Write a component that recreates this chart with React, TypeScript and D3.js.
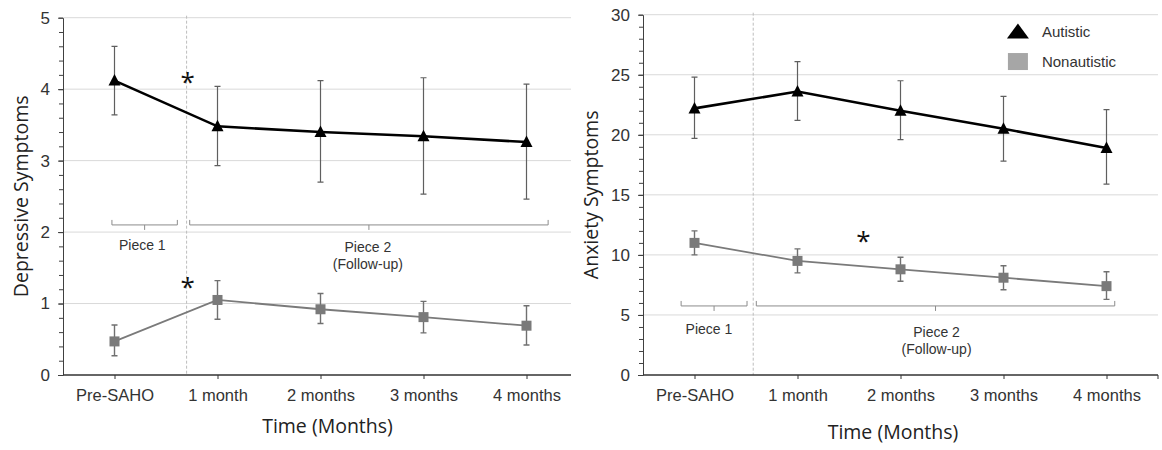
import React, { useEffect, useRef } from "react";
import * as d3 from "d3";

// time points
const categories = ["Pre-SAHO", "1 month", "2 months", "3 months", "4 months"];

// depressive symptoms
const depAutMean = [4.12, 3.48, 3.4, 3.34, 3.26];
const depAutLow = [3.64, 2.93, 2.7, 2.53, 2.46];
const depAutHigh = [4.6, 4.04, 4.12, 4.16, 4.07];
const depNonMean = [0.47, 1.05, 0.92, 0.81, 0.69];
const depNonLow = [0.27, 0.78, 0.72, 0.59, 0.42];
const depNonHigh = [0.7, 1.32, 1.14, 1.03, 0.97];

// anxiety symptoms
const anxAutMean = [22.2, 23.6, 22.0, 20.5, 18.9];
const anxAutLow = [19.7, 21.2, 19.6, 17.8, 15.9];
const anxAutHigh = [24.8, 26.1, 24.5, 23.2, 22.1];
const anxNonMean = [11.0, 9.5, 8.8, 8.1, 7.4];
const anxNonLow = [10.0, 8.5, 7.8, 7.1, 6.3];
const anxNonHigh = [12.0, 10.5, 9.8, 9.1, 8.6];

const legendLabels = ["Autistic", "Nonautistic"];

const W = 1162, H = 450;
const TICK_FONT = "'Liberation Sans', Arial, sans-serif";
const TITLE_FONT = "'Open Sans', 'Noto Sans', sans-serif";

type Row = { cat: string; mean: number; low: number; high: number };
const rows = (mean: number[], low: number[], high: number[]): Row[] =>
  categories.map((c, i) => ({ cat: c, mean: mean[i], low: low[i], high: high[i] }));

const panels = [
  {
    left: 63, right: 578, axisEnd: 571, top: 17.7, bottom: 375,
    yMax: 5, yStep: 1, minor: 0.2,
    yTitle: "Depressive Symptoms", yTitleX: 20, xTitleX: 327.5, xTitleY: 425,
    aut: rows(depAutMean, depAutLow, depAutHigh),
    non: rows(depNonMean, depNonLow, depNonHigh),
    dashAt: 0.7, endTick: false,
    brackets: [
      { from: -0.025, to: 0.61, v: 2.1 },
      { from: 0.73, to: 4.21, v: 2.1 },
    ],
    piece1: { at: 0.27, v: 1.82 },
    piece2: { at: 2.46, v: 1.79 },
    stars: [{ at: 0.71, v: 4.19 }, { at: 0.71, v: 1.32 }],
    legend: false,
  },
  {
    left: 643, right: 1158, axisEnd: 1158, top: 14.7, bottom: 375,
    yMax: 30, yStep: 5, minor: 1,
    yTitle: "Anxiety Symptoms", yTitleX: 590, xTitleX: 893, xTitleY: 431.5,
    aut: rows(anxAutMean, anxAutLow, anxAutHigh),
    non: rows(anxNonMean, anxNonLow, anxNonHigh),
    dashAt: 0.57, endTick: true,
    brackets: [
      { from: -0.13, to: 0.51, v: 5.75 },
      { from: 0.6, to: 4.08, v: 5.75 },
    ],
    piece1: { at: 0.14, v: 3.81 },
    piece2: { at: 2.35, v: 3.61 },
    stars: [{ at: 1.64, v: 11.67 }],
    legend: true,
  },
];

const triPath = (w: number, up: number, down: number) =>
  `M0,${-up}L${w / 2},${down}L${-w / 2},${down}Z`;

export default function App() {
  const ref = useRef<SVGSVGElement>(null);

  useEffect(() => {
    const svg = d3.select(ref.current);
    svg.selectAll("*").remove();

    panels.forEach(p => {
      const g = svg.append("g");
      const x = d3.scalePoint<string>().domain(categories).range([p.left, p.right]).padding(0.5);
      const y = d3.scaleLinear().domain([0, p.yMax]).range([p.bottom, p.top]);
      const xf = (i: number) => (x(categories[0]) as number) + i * x.step();

      // gridlines
      g.append("g")
        .selectAll("line")
        .data(d3.range(p.yStep, p.yMax + p.yStep / 2, p.yStep))
        .join("line")
        .attr("x1", p.left).attr("x2", p.axisEnd)
        .attr("y1", d => y(d)).attr("y2", d => y(d))
        .attr("stroke", "#d9d9d9").attr("stroke-width", 1);

      // dashed divider
      g.append("line")
        .attr("x1", xf(p.dashAt)).attr("x2", xf(p.dashAt))
        .attr("y1", p.top - 2).attr("y2", p.bottom)
        .attr("stroke", "#bdbdbd").attr("stroke-width", 1).attr("stroke-dasharray", "3,2");

      // brackets
      p.brackets.forEach(b => {
        const by = y(b.v), x1 = xf(b.from), x2 = xf(b.to), xm = (x1 + x2) / 2;
        g.append("path")
          .attr("d", `M${x1},${by - 5}V${by}H${x2}V${by - 5}M${xm},${by}V${by + 5}`)
          .attr("fill", "none").attr("stroke", "#8c8c8c").attr("stroke-width", 1);
      });

      const smallText = (tx: number, ty: number, s: string) =>
        g.append("text")
          .attr("x", tx).attr("y", ty)
          .attr("text-anchor", "middle").attr("dominant-baseline", "central")
          .style("font-family", TICK_FONT).style("font-size", "14px")
          .attr("fill", "#333").text(s);
      smallText(xf(p.piece1.at), y(p.piece1.v), "Piece 1");
      smallText(xf(p.piece2.at), y(p.piece2.v), "Piece 2");
      smallText(xf(p.piece2.at), y(p.piece2.v) + 17, "(Follow-up)");

      // error bars
      const errBars = (data: Row[], color: string, sw: number) => {
        const eg = g.append("g").attr("stroke", color).attr("stroke-width", sw).attr("fill", "none");
        eg.selectAll("path")
          .data(data)
          .join("path")
          .attr("d", d => {
            const cx = x(d.cat) as number;
            return `M${cx},${y(d.high)}V${y(d.low)}M${cx - 3},${y(d.high)}H${cx + 3}M${cx - 3},${y(d.low)}H${cx + 3}`;
          });
      };
      errBars(p.aut, "#5f5f5f", 1.2);
      errBars(p.non, "#707070", 1.4);

      const line = d3.line<Row>().x(d => x(d.cat) as number).y(d => y(d.mean));
      g.append("path").datum(p.non).attr("d", line)
        .attr("fill", "none").attr("stroke", "#7a7a7a").attr("stroke-width", 1.8);
      g.append("path").datum(p.aut).attr("d", line)
        .attr("fill", "none").attr("stroke", "#000").attr("stroke-width", 2.6);

      g.append("g").selectAll("rect")
        .data(p.non)
        .join("rect")
        .attr("x", d => (x(d.cat) as number) - 5).attr("y", d => y(d.mean) - 5)
        .attr("width", 10).attr("height", 10).attr("fill", "#7a7a7a");

      g.append("g").selectAll("path")
        .data(p.aut)
        .join("path")
        .attr("transform", d => `translate(${x(d.cat)},${y(d.mean)})`)
        .attr("d", triPath(12, 6.5, 5)).attr("fill", "#000");

      // significance stars
      p.stars.forEach(s => {
        g.append("text")
          .attr("x", xf(s.at)).attr("y", y(s.v) + 15)
          .attr("text-anchor", "middle")
          .style("font-family", TITLE_FONT).style("font-size", "26px")
          .attr("fill", "#111").text("*");
      });

      // y axis: minor then major
      g.append("g")
        .attr("transform", `translate(${p.left},0)`)
        .call(d3.axisLeft(y).tickValues(d3.range(0, p.yMax + p.minor / 2, p.minor)).tickSize(4).tickFormat(() => ""))
        .call(a => a.select(".domain").remove())
        .call(a => a.selectAll(".tick line").attr("stroke", "#404040"));
      g.append("g")
        .attr("transform", `translate(${p.left},0)`)
        .call(d3.axisLeft(y).tickValues(d3.range(0, p.yMax + p.yStep / 2, p.yStep))
          .tickFormat(d3.format("d")).tickSize(5).tickSizeOuter(0).tickPadding(8))
        .call(a => a.select(".domain").attr("stroke", "#404040"))
        .call(a => a.selectAll(".tick line").attr("stroke", "#404040"))
        .call(a => a.selectAll("text").style("font-family", TICK_FONT).style("font-size", "17px").attr("fill", "#333"));

      // x axis
      g.append("g")
        .attr("transform", `translate(0,${p.bottom})`)
        .call(d3.axisBottom(x).tickSize(4).tickPadding(10.5))
        .call(a => a.select(".domain").remove())
        .call(a => a.selectAll(".tick line").attr("stroke", "#333"))
        .call(a => a.selectAll("text").style("font-family", TICK_FONT).style("font-size", "16.5px").attr("fill", "#333"));
      g.append("line")
        .attr("x1", p.left).attr("x2", p.axisEnd)
        .attr("y1", p.bottom).attr("y2", p.bottom)
        .attr("stroke", "#333").attr("stroke-width", 1.5);
      if (p.endTick) {
        g.append("line")
          .attr("x1", p.axisEnd).attr("x2", p.axisEnd)
          .attr("y1", p.bottom).attr("y2", p.bottom + 4)
          .attr("stroke", "#333");
      }

      // titles
      g.append("text")
        .attr("transform", `translate(${p.yTitleX},${(p.top + p.bottom) / 2}) rotate(-90)`)
        .attr("text-anchor", "middle").attr("dominant-baseline", "central")
        .style("font-family", TITLE_FONT).style("font-size", "19.5px")
        .attr("fill", "#222").text(p.yTitle);
      g.append("text")
        .attr("x", p.xTitleX).attr("y", p.xTitleY)
        .attr("text-anchor", "middle").attr("dominant-baseline", "central")
        .style("font-family", TITLE_FONT).style("font-size", "19.5px")
        .attr("fill", "#222").text("Time (Months)");

      if (p.legend) {
        const lx = xf(3.14), ly1 = y(28.6), ly2 = y(26.1);
        g.append("path")
          .attr("transform", `translate(${lx},${ly1})`)
          .attr("d", triPath(22, 8, 7)).attr("fill", "#000");
        g.append("rect")
          .attr("x", lx - 10).attr("y", ly2 - 8.5)
          .attr("width", 20).attr("height", 17).attr("fill", "#a6a6a6");
        [ly1, ly2].forEach((ly, i) => {
          g.append("text")
            .attr("x", lx + 24).attr("y", ly)
            .attr("dominant-baseline", "central")
            .style("font-family", TICK_FONT).style("font-size", "15px")
            .attr("fill", "#333").text(legendLabels[i]);
        });
      }
    });
  }, []);

  return (
    <svg
      ref={ref}
      width={W}
      height={H}
      style={{ position: "absolute", left: 0, top: 0, background: "#fff" }}
    />
  );
}
